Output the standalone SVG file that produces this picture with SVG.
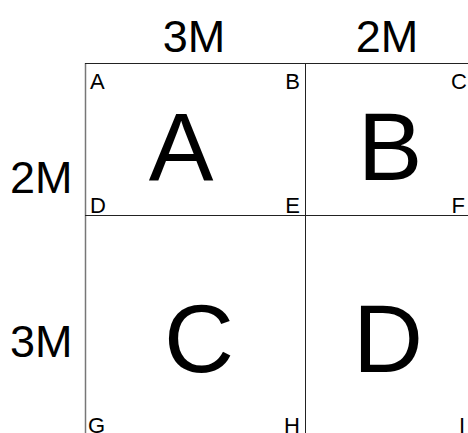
<svg xmlns="http://www.w3.org/2000/svg" width="468" height="433" viewBox="0 0 468 433">
<style>
text{font-family:"Liberation Sans",Arial,sans-serif;fill:#000}
.dim{font-size:45px}
.big{font-size:97px}
.sm{font-size:22px}
.r{text-anchor:end}
.m{text-anchor:middle}
line{stroke:#222;stroke-width:1}
</style>
<rect width="468" height="433" fill="#fff"/>
<g id="connectors">
<line x1="85.5" y1="63" x2="85.5" y2="433" style="stroke:#777;stroke-width:1.5"/>
<line x1="85" y1="63.5" x2="468" y2="63.5"/>
<line x1="305.5" y1="63" x2="305.5" y2="433"/>
<line x1="85" y1="215.5" x2="468" y2="215.5"/>
</g>
<g id="labels">
<text class="dim m" x="194" y="52">3M</text>
<text class="dim m" x="387" y="52">2M</text>
<text class="dim" x="10" y="193">2M</text>
<text class="dim" x="10" y="357">3M</text>
</g>
<g id="A"><text class="big m" x="181" y="180">A</text></g>
<g id="B"><text class="big m" x="390" y="180">B</text></g>
<g id="C"><text class="big m" x="199" y="372">C</text></g>
<g id="D"><text class="big m" x="388" y="372">D</text></g>
<g id="corners">
<text class="sm" x="90" y="89">A</text>
<text class="sm r" x="300" y="89">B</text>
<text class="sm r" x="467" y="89">C</text>
<text class="sm" x="90" y="213">D</text>
<text class="sm r" x="300" y="213">E</text>
<text class="sm r" x="465" y="213">F</text>
<text class="sm" x="88" y="433">G</text>
<text class="sm r" x="300" y="433">H</text>
<text class="sm r" x="465" y="433">I</text>
</g>
</svg>
